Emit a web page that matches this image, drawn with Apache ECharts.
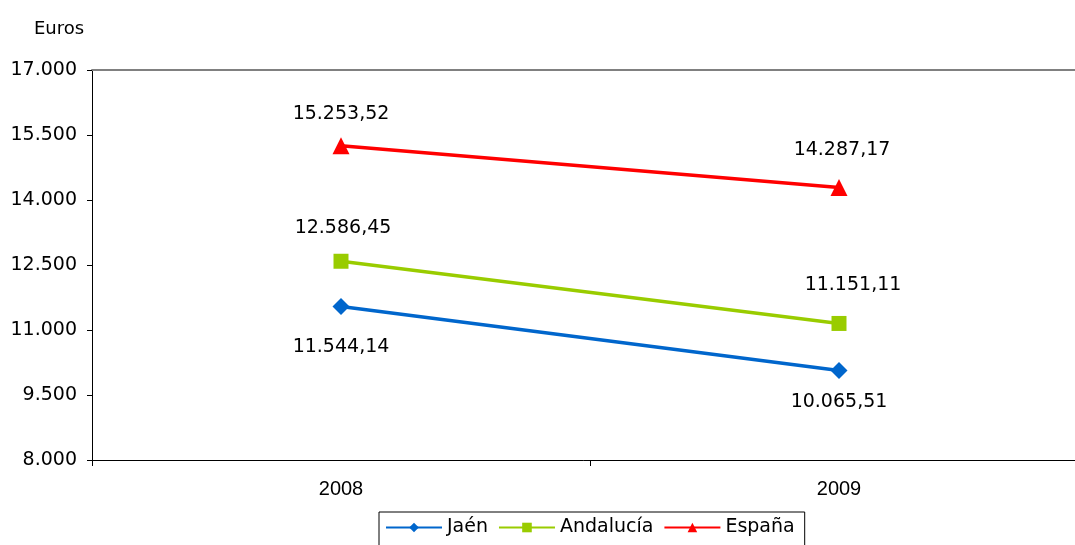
<!DOCTYPE html>
<html>
<head>
<meta charset="utf-8">
<script src="https://cdn.jsdelivr.net/npm/echarts@6/dist/echarts.min.js"></script>
<style>html,body{margin:0;padding:0;background:#fff}#c{width:1075px;height:545px}</style>
</head>
<body>
<div id="c"></div>
<script>
const categories = ['2008', '2009'];
const jaen = [11544.14, 10065.51];
const andalucia = [12586.45, 11151.11];
const espana = [15253.52, 14287.17];
const seriesNames = ['Jaén', 'Andalucía', 'España'];
const yMin = 8000, yMax = 17000, yStep = 1500;

// label placement (layout only), offsets relative to the point centre
const labelOffsets = {
  jaen: [[0, 41], [0, 32]],
  andalucia: [[2, -33], [14, -38]],
  espana: [[0, -32], [3, -37]]
};

function thousands(v) {
  const s = String(Math.round(v));
  return s.replace(/\B(?=(\d{3})+(?!\d))/g, '.');
}
function fmtDec(v) {
  const parts = v.toFixed(2).split('.');
  return thousands(parseInt(parts[0], 10)) + ',' + parts[1];
}

const font = 'DejaVu Sans';
const chart = echarts.init(document.getElementById('c'));
function mk(name, values, offsets, color, symbol, size) {
  return {
    name: name, type: 'line',
    data: values.map((v, i) => ({
      value: v,
      label: { offset: offsets[i] }
    })),
    symbol: symbol, symbolSize: size,
    lineStyle: { color: color, width: 3.5 },
    itemStyle: { color: color },
    label: {
      show: true, position: 'inside',
      formatter: p => fmtDec(p.value),
      fontFamily: font, fontSize: 19, color: '#000'
    },
    z: 3,
    animation: false
  };
}
chart.setOption({
  backgroundColor: '#fff',
  animation: false,
  title: {
    text: 'Euros', left: 29, top: 15,
    textStyle: { fontFamily: font, fontSize: 18, fontWeight: 'normal', color: '#000' }
  },
  grid: { left: 92, width: 996, top: 70, bottom: 85, outerBoundsMode: 'none', containLabel: false },
  legend: {
    data: seriesNames,
    left: 379, top: 512,
    padding: [6, 10, 12, 6],
    borderColor: '#000', borderWidth: 1,
    itemWidth: 56, itemHeight: 12, itemGap: 10,
    textStyle: { fontFamily: font, fontSize: 19, color: '#000' }
  },
  xAxis: [{
    type: 'category', data: categories, boundaryGap: true,
    axisLine: { lineStyle: { color: '#000', width: 1 } },
    axisTick: { show: true, length: 6, lineStyle: { color: '#000' } },
    axisLabel: { fontFamily: 'Liberation Sans', fontSize: 20, color: '#000', margin: 19 }
  }, {
    type: 'category', data: categories, position: 'top',
    axisLine: { show: true, lineStyle: { color: '#808080', width: 2 } },
    axisTick: { show: false }, axisLabel: { show: false }
  }],
  yAxis: {
    type: 'value', min: yMin, max: yMax, interval: yStep,
    axisLine: { show: true, lineStyle: { color: '#000', width: 1 } },
    axisTick: { show: true, length: 5, lineStyle: { color: '#000' } },
    splitLine: { show: false },
    axisLabel: {
      fontFamily: font, fontSize: 19, color: '#000', margin: 15,
      formatter: v => thousands(v)
    }
  },
  series: [
    mk(seriesNames[0], jaen, labelOffsets.jaen, '#0066CC', 'diamond', 17),
    mk(seriesNames[1], andalucia, labelOffsets.andalucia, '#99CC00', 'rect', 15),
    mk(seriesNames[2], espana, labelOffsets.espana, '#FF0000', 'triangle', 17)
  ]
});
</script>
</body>
</html>
